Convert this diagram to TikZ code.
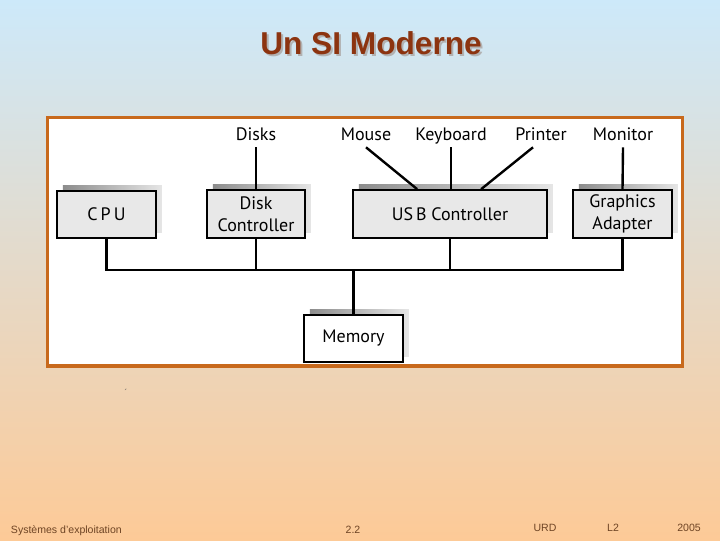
\documentclass[tikz,border=0pt]{standalone}
\usepackage{fontspec}
\setmainfont{Liberation Sans}
\newfontfamily\labelfont{PT Sans}
\usepackage{tikz}
\usetikzlibrary{shadows, calc}

\definecolor{skytop}{RGB}{205,233,250}
\definecolor{skymid}{RGB}{236,221,206}
\definecolor{peach}{RGB}{253,202,151}
\definecolor{framebrown}{RGB}{200,105,28}
\definecolor{titlebrown}{RGB}{140,52,16}
\definecolor{footbrown}{RGB}{110,68,36}
\definecolor{boxgray}{RGB}{232,232,232}

\begin{document}
\begin{tikzpicture}[
    x=0.025cm, y=-0.025cm,
    unit/.style={
        draw, line width=1.2pt, fill=boxgray,
        minimum width=2.475cm, minimum height=1.175cm,
        inner sep=0pt, align=center,
        font=\labelfont\fontsize{12.8}{15.5}\selectfont,
        general shadow={left color=gray!90, right color=gray!20,
                        shadow xshift=4.2pt, shadow yshift=3.9pt}
    },
    dev/.style={font=\labelfont\fontsize{12.8}{14}\selectfont,
                anchor=base, text depth=0pt, inner xsep=1pt, inner ysep=5pt},
    wire/.style={line width=1.7pt},
    foot/.style={font=\fontsize{7.5}{8}\selectfont, text=footbrown, anchor=base}
]

% Slide background and frame
\useasboundingbox (0,0) rectangle (720,540);
\shade[top color=skytop, middle color=skymid, bottom color=peach] (0,0) rectangle (720,540);
\draw[framebrown, line width=2.2pt, fill=white] (47.5,117.5) rectangle (682.5,366);

% Title
\node[text=gray!60, font=\bfseries\fontsize{22.5}{26}\selectfont] at (373,45) {Un SI Moderne};
\node[text=titlebrown, font=\bfseries\fontsize{22.5}{26}\selectfont] (title) at (371,43) {Un SI Moderne};

% Units
\node[unit] (cpu)  at (106.5,214.5) {C\,P\,U};
\node[unit, minimum width=2.45cm, minimum height=1.2cm] (disk) at (256,214) {Disk\\Controller};
\node[unit, minimum width=4.85cm, minimum height=1.2cm] (usb)  at (450,214) {US\,B Controller};
\node[unit, minimum height=1.2cm] (gfx)  at (622.5,214) {Graphics\\Adapter};
\node[unit, fill=white] (mem) at (353.5,338.5) {Memory};

% Devices
\node[dev] (disks)    at (256,140) {Disks};
\node[dev] (mouse)    at (366,140) {Mouse};
\node[dev] (keyboard) at (451,140) {Keyboard};
\node[dev] (printer)  at (541,140) {Printer};
\node[dev] (monitor)  at (623,140) {Monitor};

% Device cables
\draw[wire] (disks.south) -- (disk.north);
\draw[wire] (mouse.south) -- ($(usb.north west)+(65,0)$);
\draw[wire] (keyboard.south) -- (keyboard.south |- usb.north);
\draw[wire] ($(printer.south)+(-8,0)$) -- ($(usb.north west)+(129,0)$);
\draw[wire] (monitor.south) -- (gfx.north);

% System bus
\coordinate (bus) at (0,270);
\draw[wire] (cpu.south) -- (cpu.south |- bus) -- (gfx.south |- bus) -- (gfx.south);
\draw[wire] (disk.south) -- (disk.south |- bus);
\draw[wire] (usb.south) -- (usb.south |- bus);
\draw[wire] (mem.north) -- (mem.north |- bus);

% Stray mark
\node[font=\fontsize{6}{6}\selectfont, text=gray!70!black] (mark) at (126,392) {´};

% Footer
\node[foot, anchor=base west] (course) at (6,533) {Systèmes d'exploitation};
\node[foot] (page) at (353,533) {2.2};
\node[foot] (urd)  at (545,531) {URD};
\node[foot] (lvl)  at (613,531) {L2};
\node[foot] (year) at (689,531) {2005};

\end{tikzpicture}
\end{document}
